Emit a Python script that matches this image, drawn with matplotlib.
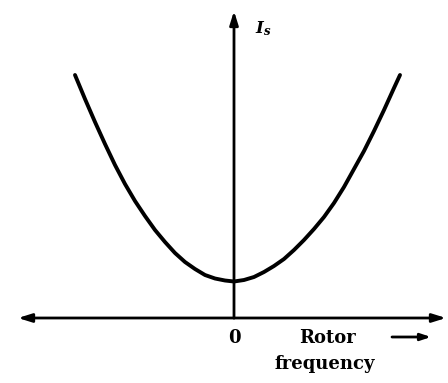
import numpy as np
import matplotlib.pyplot as plt

plt.rcParams['mathtext.fontset'] = 'dejavuserif'

# curve (x: offset from the vertical axis, y: height above the horizontal axis)
rotor_freq = [-159, -149, -139, -129, -119, -109, -99, -89, -79, -69, -59, -49, -39, -29, -19, -9, 0,
              10, 20, 30, 40, 50, 60, 70, 80, 90, 100, 110, 120, 130, 140, 150, 160, 166]
stator_current = [243, 219, 196, 174, 153, 134, 117, 102, 88, 76, 65, 56, 49, 43, 39.5, 37.5, 36.5,
                  38, 41, 46, 52, 59, 68, 78, 89, 101, 115, 131, 149, 167, 187, 208, 230, 243]

fig = plt.figure(figsize=(4.48, 3.83), dpi=100)
ax = fig.add_axes([0, 0, 1, 1])
ax.set_xlim(-234, 214)
ax.set_ylim(-65, 318)
ax.axis('off')

ax.plot(rotor_freq, stator_current, color='black', lw=2.8, solid_capstyle='round', solid_joinstyle='round')

arrow = dict(arrowstyle='-|>,head_length=0.8,head_width=0.25', color='black', lw=2.0, shrinkA=0, shrinkB=0)
ax.annotate('', xy=(212, 0), xytext=(0, 0), arrowprops=arrow)
ax.annotate('', xy=(-216, 0), xytext=(0, 0), arrowprops=arrow)
ax.annotate('', xy=(0, 307), xytext=(0, 0), arrowprops=arrow)

serif = 'DejaVu Serif'
ax.text(21, 289, r'$\boldsymbol{I}_{\boldsymbol{s}}$', fontsize=12, ha='left', va='center')
ax.text(0, -20, '0', fontsize=13, ha='center', va='center', fontfamily=serif, fontweight='bold')
ax.text(93, -20, 'Rotor', fontsize=13, ha='center', va='center', fontfamily=serif, fontweight='bold')
ax.text(91, -46, 'frequency', fontsize=13, ha='center', va='center', fontfamily=serif, fontweight='bold')
ax.annotate('', xy=(197, -19), xytext=(158, -19),
            arrowprops=dict(arrowstyle='-|>,head_length=0.6,head_width=0.2', color='black', lw=2.0,
                            shrinkA=0, shrinkB=0))

fig.savefig('out.png', dpi=100)
